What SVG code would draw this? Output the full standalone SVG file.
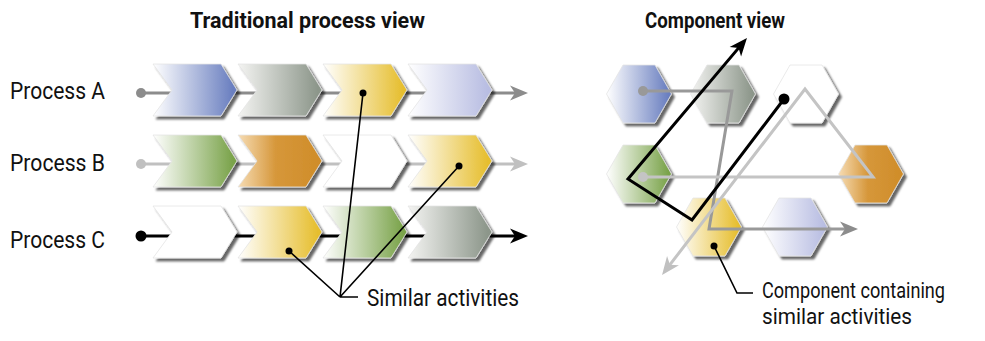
<svg xmlns="http://www.w3.org/2000/svg" width="985" height="341" viewBox="0 0 985 341">
<style>
.lbl{font-family:Roboto,"Liberation Sans",sans-serif;font-size:23px;fill:#111}
.sm{font-size:22px}
.ttl{font-family:Roboto,"Liberation Sans",sans-serif;font-size:22px;font-weight:bold;fill:#111}
.sh{filter:url(#shadow);stroke:#e4e4e4;stroke-width:0.8}
.ptr{stroke:#000;stroke-width:1.6;fill:none}
</style>
<defs>
<filter id="shadow" x="-10%" y="-10%" width="130%" height="130%">
<feDropShadow dx="3" dy="3" stdDeviation="1.3" flood-color="#000" flood-opacity="0.6"/>
</filter>
<linearGradient id="gBlue" x1="0" y1="0" x2="1" y2="0"><stop offset="0" stop-color="#ffffff"/><stop offset="0.95" stop-color="#6a7fc0"/></linearGradient>
<linearGradient id="gGray" x1="0" y1="0" x2="1" y2="0"><stop offset="0" stop-color="#f4f4f2"/><stop offset="0.95" stop-color="#8c968a"/></linearGradient>
<linearGradient id="gYellow" x1="0" y1="0" x2="1" y2="0"><stop offset="0" stop-color="#ffffff"/><stop offset="0.95" stop-color="#e6be2e"/></linearGradient>
<linearGradient id="gLav" x1="0" y1="0" x2="1" y2="0"><stop offset="0" stop-color="#ffffff"/><stop offset="0.95" stop-color="#b8bde2"/></linearGradient>
<linearGradient id="gGreen" x1="0" y1="0" x2="1" y2="0"><stop offset="0" stop-color="#ffffff"/><stop offset="0.95" stop-color="#7aa34a"/></linearGradient>
<linearGradient id="gOrange" x1="0" y1="0" x2="1" y2="0"><stop offset="0" stop-color="#f6dcb4"/><stop offset="0.45" stop-color="#d6973a"/><stop offset="1" stop-color="#cf8c28"/></linearGradient>
<path id="chev" d="M0,0 L68,0 L84,26 L68,52 L0,52 L19,26 Z"/>
<path id="hex" d="M-32.5,0 L-16,-29 L16,-29 L32.5,0 L16,29 L-16,29 Z"/>
<marker id="aGray" markerUnits="userSpaceOnUse" markerWidth="22" markerHeight="20" refX="14" refY="10" orient="auto"><path d="M20,10 L2,2.5 L7,10 L2,17.5 Z" fill="#8c8c8c"/></marker>
<marker id="aLight" markerUnits="userSpaceOnUse" markerWidth="22" markerHeight="20" refX="14" refY="10" orient="auto"><path d="M20,10 L2,2.5 L7,10 L2,17.5 Z" fill="#c0c0c0"/></marker>
<marker id="aBlack" markerUnits="userSpaceOnUse" markerWidth="22" markerHeight="20" refX="14" refY="10" orient="auto"><path d="M20,10 L2,2.5 L7,10 L2,17.5 Z" fill="#000"/></marker>
</defs>
<rect width="985" height="341" fill="#fff"/>

<text class="ttl" x="190" y="28" textLength="235" lengthAdjust="spacingAndGlyphs">Traditional process view</text>
<text class="ttl" x="645" y="28" textLength="140" lengthAdjust="spacingAndGlyphs">Component view</text>

<g id="labels">
<text class="lbl" x="10" y="99" textLength="95" lengthAdjust="spacingAndGlyphs">Process A</text>
<text class="lbl" x="10" y="171" textLength="95" lengthAdjust="spacingAndGlyphs">Process B</text>
<text class="lbl" x="10" y="248" textLength="95" lengthAdjust="spacingAndGlyphs">Process C</text>
</g>

<g id="process-lines">
<circle cx="141" cy="93" r="5" fill="#8c8c8c"/>
<path d="M141,93 H522" stroke="#8c8c8c" stroke-width="3" marker-end="url(#aGray)"/>
<circle cx="141" cy="164" r="5" fill="#c0c0c0"/>
<path d="M141,164 H522" stroke="#c0c0c0" stroke-width="3" marker-end="url(#aLight)"/>
<circle cx="141" cy="236" r="5.5" fill="#000"/>
<path d="M141,236 H522" stroke="#000" stroke-width="3" marker-end="url(#aBlack)"/>
</g>

<g id="row-a">
<use href="#chev" class="sh" x="153" y="64" fill="url(#gBlue)"/>
<use href="#chev" class="sh" x="238" y="64" fill="url(#gGray)"/>
<use href="#chev" class="sh" x="323" y="64" fill="url(#gYellow)"/>
<use href="#chev" class="sh" x="408" y="64" fill="url(#gLav)"/>
</g>
<g id="row-b">
<use href="#chev" class="sh" x="153" y="135" fill="url(#gGreen)"/>
<use href="#chev" class="sh" x="238" y="135" fill="url(#gOrange)"/>
<use href="#chev" class="sh" x="323" y="135" fill="#fff"/>
<use href="#chev" class="sh" x="408" y="135" fill="url(#gYellow)"/>
</g>
<g id="row-c">
<use href="#chev" class="sh" x="153" y="206" fill="#fff"/>
<use href="#chev" class="sh" x="238" y="206" fill="url(#gYellow)"/>
<use href="#chev" class="sh" x="323" y="206" fill="url(#gGreen)"/>
<use href="#chev" class="sh" x="408" y="206" fill="url(#gGray)"/>
</g>

<g id="hexagons">
<use href="#hex" class="sh" x="639" y="94" fill="url(#gBlue)"/>
<use href="#hex" class="sh" x="723" y="94" fill="url(#gGray)"/>
<use href="#hex" class="sh" x="806" y="94" fill="#fff"/>
<use href="#hex" class="sh" x="639" y="174" fill="url(#gGreen)"/>
<use href="#hex" class="sh" x="871" y="174" fill="url(#gOrange)"/>
<use href="#hex" class="sh" x="709" y="227" fill="url(#gYellow)"/>
<use href="#hex" class="sh" x="795" y="227" fill="url(#gLav)"/>
</g>

<g id="component-lines" fill="none" stroke-width="3" stroke-linejoin="miter">
<circle cx="643" cy="91" r="5" fill="#999" stroke="none"/>
<path d="M643,91 L732,91 L709,229 L852,229" stroke="#999" marker-end="url(#aGray)"/>
<circle cx="643" cy="177" r="5" fill="#c4c4c4" stroke="none"/>
<path d="M643,177 L873,177 L805,89 L665.7,270.2" stroke="#c4c4c4" marker-end="url(#aLight)"/>
<circle cx="784" cy="99" r="5.5" fill="#000" stroke="none"/>
<path d="M784,99 L692,220 L628,179 L743.1,42.6" stroke="#000" marker-end="url(#aBlack)"/>
</g>

<g id="pointers">
<path class="ptr" d="M363,93 L340,297 M459,166 L340,297 M289,251 L340,297 M340,297 H358"/>
<circle cx="363" cy="93" r="3.5"/>
<circle cx="459" cy="166" r="3.5"/>
<circle cx="289" cy="251" r="3.5"/>
<text class="lbl" x="367" y="306" textLength="152" lengthAdjust="spacingAndGlyphs">Similar activities</text>
<path class="ptr" d="M714,246 L737,293 H753"/>
<circle cx="714" cy="246" r="3.5"/>
<text class="lbl sm" x="762" y="298" textLength="183" lengthAdjust="spacingAndGlyphs">Component containing</text>
<text class="lbl sm" x="762" y="324" textLength="150" lengthAdjust="spacingAndGlyphs">similar activities</text>
</g>
</svg>
